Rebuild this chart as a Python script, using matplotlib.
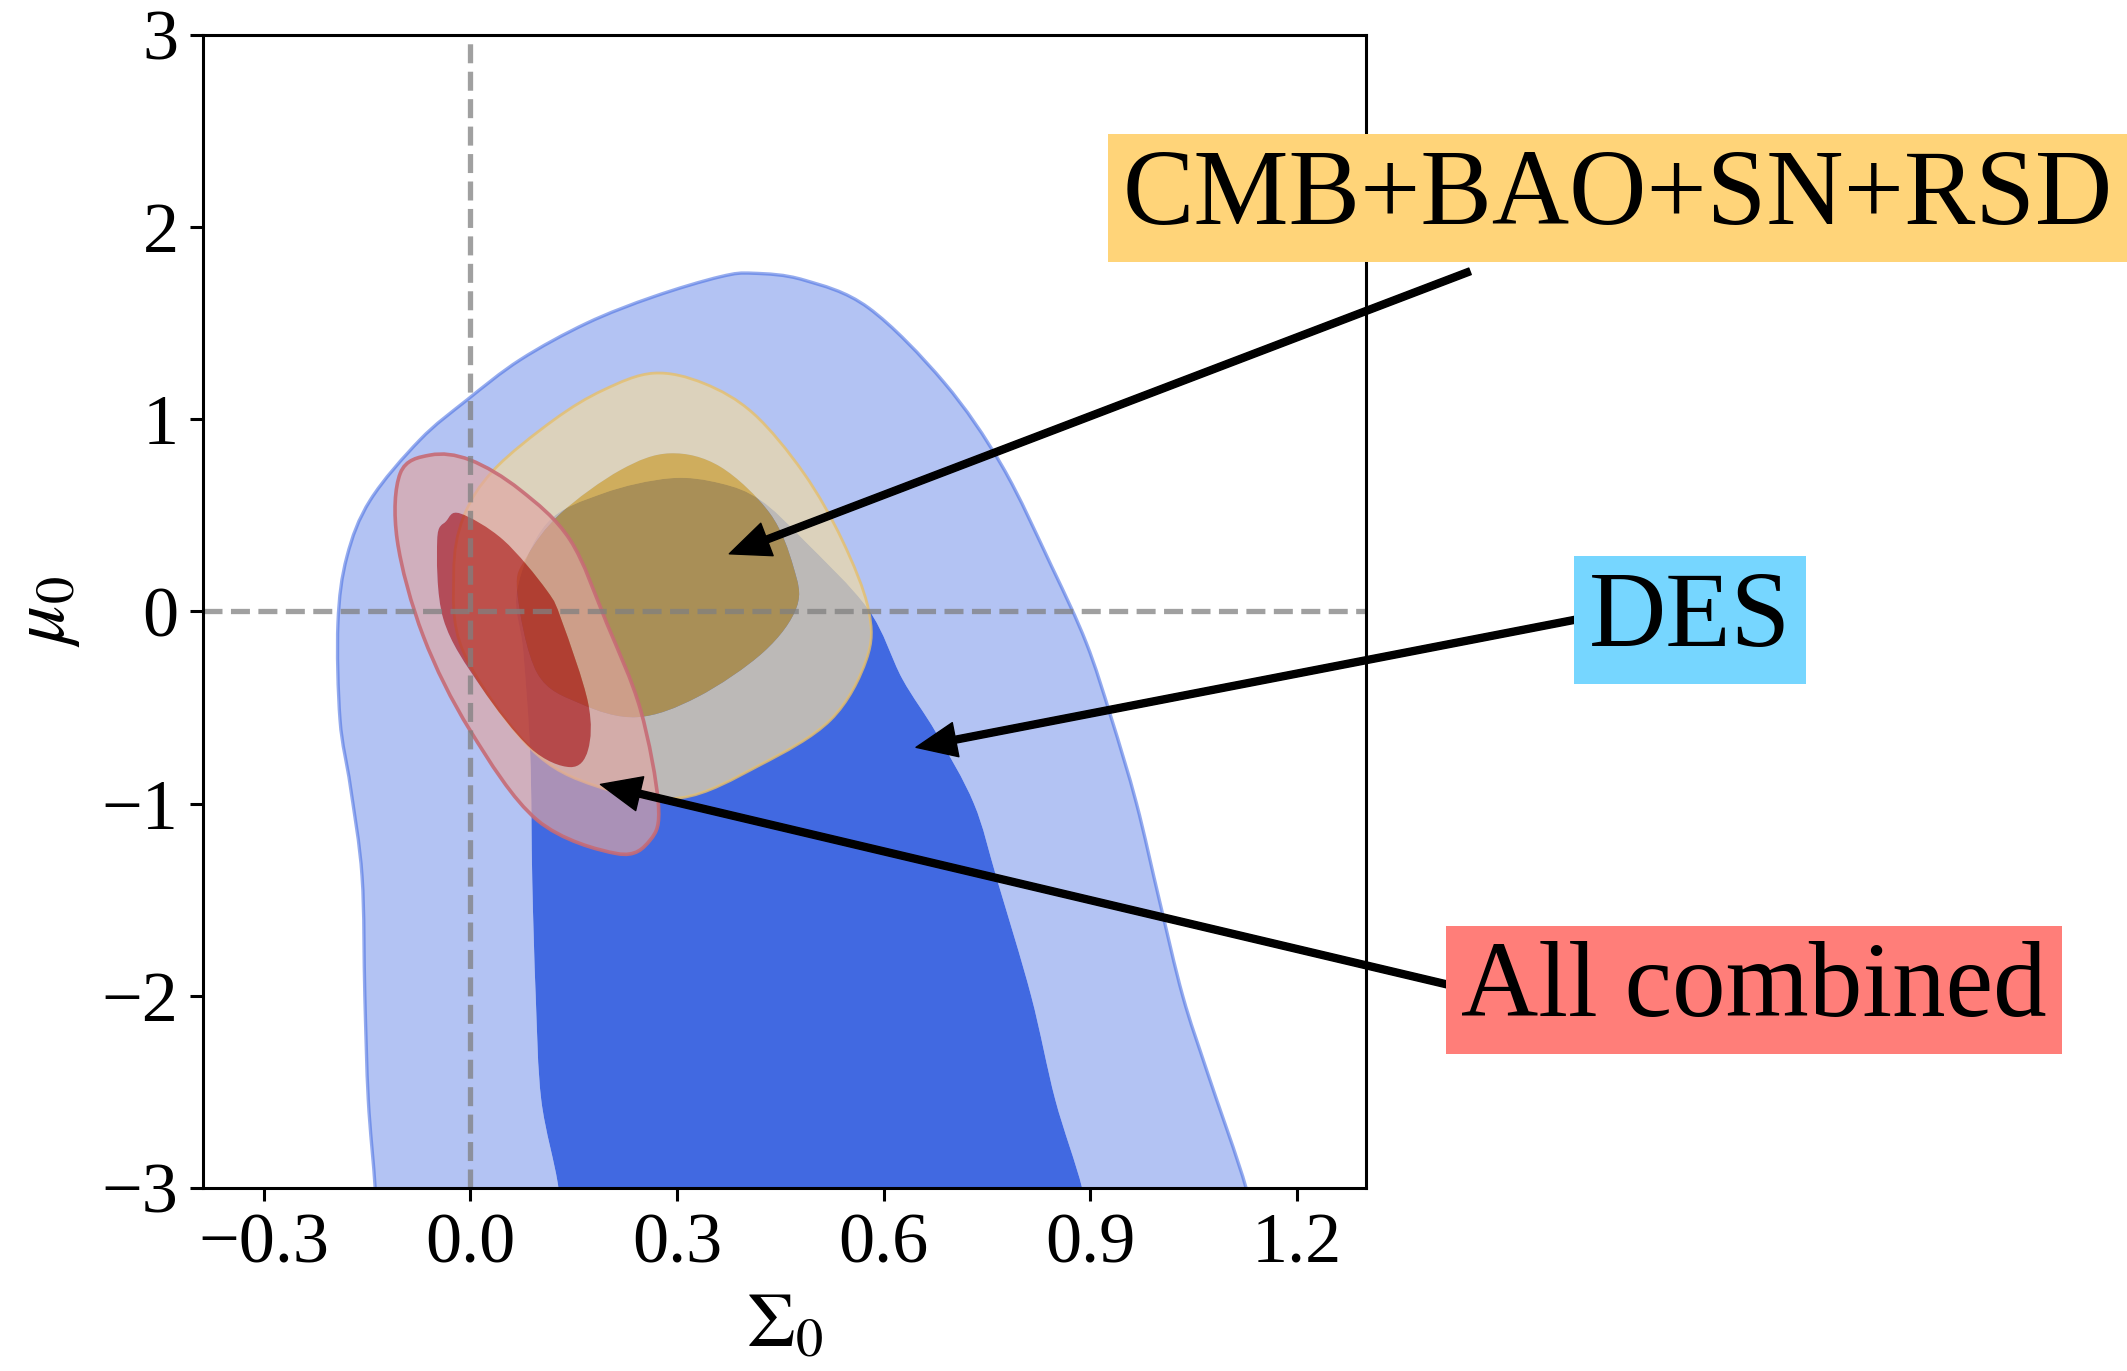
import numpy as np
import matplotlib.pyplot as plt
from matplotlib.path import Path
from matplotlib.patches import PathPatch

plt.rcParams['font.family'] = 'serif'
plt.rcParams['font.serif'] = ['Liberation Serif', 'DejaVu Serif']
plt.rcParams['mathtext.fontset'] = 'stix'

# contour outlines (Sigma_0, mu_0)
des_outer_x = [-0.135, -0.138, -0.148, -0.153, -0.157, -0.174, -0.189, -0.192, -0.179, -0.145,
               -0.073, -0.005, 0.0726, 0.169, 0.266, 0.363, 0.411, 0.484, 0.578, 0.688,
               0.772, 0.844, 0.894, 0.93, 0.967, 1.00, 1.034, 1.07, 1.126, 1.14]
des_outer_y = [-3.3, -3.0, -2.54, -2.0, -1.38, -0.91, -0.564, -0.06, 0.285, 0.58,
               0.893, 1.10, 1.31, 1.50, 1.638, 1.742, 1.76, 1.725, 1.58, 1.19,
               0.756, 0.233, -0.163, -0.55, -1.0, -1.5, -2.0, -2.4, -3.0, -3.3]
des_inner_x = [0.13, 0.128, 0.103, 0.095, 0.09, 0.087, 0.077, 0.068, 0.111, 0.193, 0.29, 0.363,
               0.421, 0.484, 0.578, 0.627, 0.676, 0.731, 0.765, 0.814, 0.849, 0.888, 0.90]
des_inner_y = [-3.3, -3.0, -2.54, -2.0, -1.4, -0.74, -0.21, 0.11, 0.459, 0.615, 0.693, 0.667,
               0.58, 0.372, 0.01, -0.35, -0.63, -1.0, -1.4, -2.0, -2.54, -3.0, -3.3]

ext_outer_x = [-0.024, -0.0097, 0.034, 0.121, 0.193, 0.266, 0.339, 0.411, 0.484, 0.54, 0.578,
               0.575, 0.523, 0.42, 0.305, 0.184, 0.087, -0.01]
ext_outer_y = [0.20, 0.493, 0.736, 0.996, 1.152, 1.24, 1.187, 1.03, 0.72, 0.37, 0.01,
               -0.25, -0.564, -0.80, -0.97, -0.91, -0.71, -0.21]
ext_inner_x = [0.068, 0.082, 0.131, 0.218, 0.29, 0.363, 0.435, 0.469, 0.474, 0.426, 0.33,
               0.242, 0.16, 0.097]
ext_inner_y = [0.11, 0.285, 0.51, 0.736, 0.823, 0.753, 0.51, 0.233, 0.025, -0.21, -0.445,
               -0.55, -0.48, -0.32]

all_outer_x = [-0.106, -0.1016, -0.058, 0.0, 0.0726, 0.145, 0.198, 0.247, 0.273, 0.261, 0.213,
               0.097, 0.0, -0.068]
all_outer_y = [0.372, 0.719, 0.814, 0.788, 0.632, 0.372, -0.06, -0.51, -1.0, -1.19, -1.26,
               -1.085, -0.62, -0.13]
all_inner_x = [-0.0145, 0.048, 0.111, 0.133, 0.171, 0.171, 0.145, 0.087, 0.015, -0.039, -0.048,
               -0.035]
all_inner_y = [0.51, 0.372, 0.11, -0.05, -0.475, -0.72, -0.81, -0.71, -0.39, -0.04, 0.372, 0.47]

labels = ['CMB+BAO+SN+RSD', 'DES', 'All combined']
label_colors = ['#FFD479', '#76D6FF', '#FF7E79']
arrow_tips = [(0.376, 0.30), (0.647, -0.707), (0.189, -0.90)]
arrow_tails = [(1.451, 1.77), (1.605, -0.042), (1.452, -1.97)]


def smooth_loop(pts):
    # closed catmull-rom outline written as cubic bezier segments
    n = len(pts)
    verts = [pts[0]]
    for i in range(n):
        p0, p1, p2, p3 = pts[i - 1], pts[i], pts[(i + 1) % n], pts[(i + 2) % n]
        verts += [p1 + (p2 - p0) / 6, p2 - (p3 - p1) / 6, p2]
    codes = [Path.MOVETO] + [Path.CURVE4] * (3 * n)
    return verts, codes


def band(outer, inner=None):
    verts, codes = [], []
    for k, pts in enumerate([outer, inner]):
        if pts is None:
            continue
        pts = np.column_stack(pts)
        area = 0.5 * np.sum(pts[:, 0] * np.roll(pts[:, 1], -1) - np.roll(pts[:, 0], -1) * pts[:, 1])
        if (k == 0) != (area > 0):
            pts = pts[::-1]
        v, c = smooth_loop(pts)
        verts += v
        codes += c
    return Path(verts, codes)


fig = plt.figure(figsize=(21.27, 13.71), dpi=100)
ax = fig.add_axes([0.0954, 0.1335, 0.5468, 0.841])

# DES
ax.add_patch(PathPatch(band((des_outer_x, des_outer_y), (des_inner_x, des_inner_y)),
                       facecolor='royalblue', alpha=0.4, lw=0))
ax.add_patch(PathPatch(band((des_inner_x, des_inner_y)), facecolor='royalblue', lw=0))
ax.add_patch(PathPatch(band((des_outer_x, des_outer_y)), fill=False,
                       edgecolor='royalblue', alpha=0.55, lw=2.4))

# CMB+BAO+SN+RSD
ax.add_patch(PathPatch(band((ext_outer_x, ext_outer_y), (ext_inner_x, ext_inner_y)),
                       facecolor=(0.925, 0.85, 0.655), alpha=0.72, lw=0))
ax.add_patch(PathPatch(band((ext_inner_x, ext_inner_y)), facecolor=(0.87, 0.64, 0.07),
                       alpha=0.667, lw=0))
ax.add_patch(PathPatch(band((ext_outer_x, ext_outer_y)), fill=False,
                       edgecolor=(0.9, 0.75, 0.42), alpha=0.8, lw=2.0))

# All combined
ax.add_patch(PathPatch(band((all_outer_x, all_outer_y), (all_inner_x, all_inner_y)),
                       facecolor=(0.88, 0.65, 0.64), alpha=0.667, lw=0))
ax.add_patch(PathPatch(band((all_inner_x, all_inner_y)), facecolor=(0.70, 0.14, 0.15),
                       alpha=0.75, lw=0))
ax.add_patch(PathPatch(band((all_outer_x, all_outer_y)), fill=False,
                       edgecolor=(0.78, 0.42, 0.46), alpha=0.9, lw=2.6))

ax.axvline(0, color='gray', alpha=0.75, lw=3.8, dashes=(3.6, 1.6))
ax.axhline(0, color='gray', alpha=0.75, lw=3.8, dashes=(3.6, 1.6))

ax.set_xlim(-0.388, 1.30)
ax.set_ylim(-3, 3)
ax.set_xticks([-0.3, 0.0, 0.3, 0.6, 0.9, 1.2])
ax.set_yticks([-3, -2, -1, 0, 1, 2, 3])
ax.set_xticklabels(['\u22120.3', '0.0', '0.3', '0.6', '0.9', '1.2'])
ax.tick_params(labelsize=52, length=9.5, width=2.2, pad=8)
for s in ax.spines.values():
    s.set_linewidth(2.2)
ax.set_xlabel(r'$\Sigma_0$', fontsize=56, labelpad=10)
ax.set_ylabel(r'$\mu_0$', fontsize=56, labelpad=14)

for tip, tail in zip(arrow_tips, arrow_tails):
    ax.annotate('', xy=tip, xytext=tail, annotation_clip=False,
                arrowprops=dict(facecolor='k', edgecolor='k', width=5, headwidth=25,
                                headlength=29, shrink=0))

label_pos = [(0.7607, 0.8556), (0.7946, 0.5478), (0.8247, 0.2779)]
for txt, c, (x, y) in zip(labels, label_colors, label_pos):
    fig.text(x, y, txt, fontsize=77, ha='center', va='center',
             bbox=dict(boxstyle='square,pad=0.14', facecolor=c, edgecolor='none'))

fig.savefig('out.png', dpi=100)
